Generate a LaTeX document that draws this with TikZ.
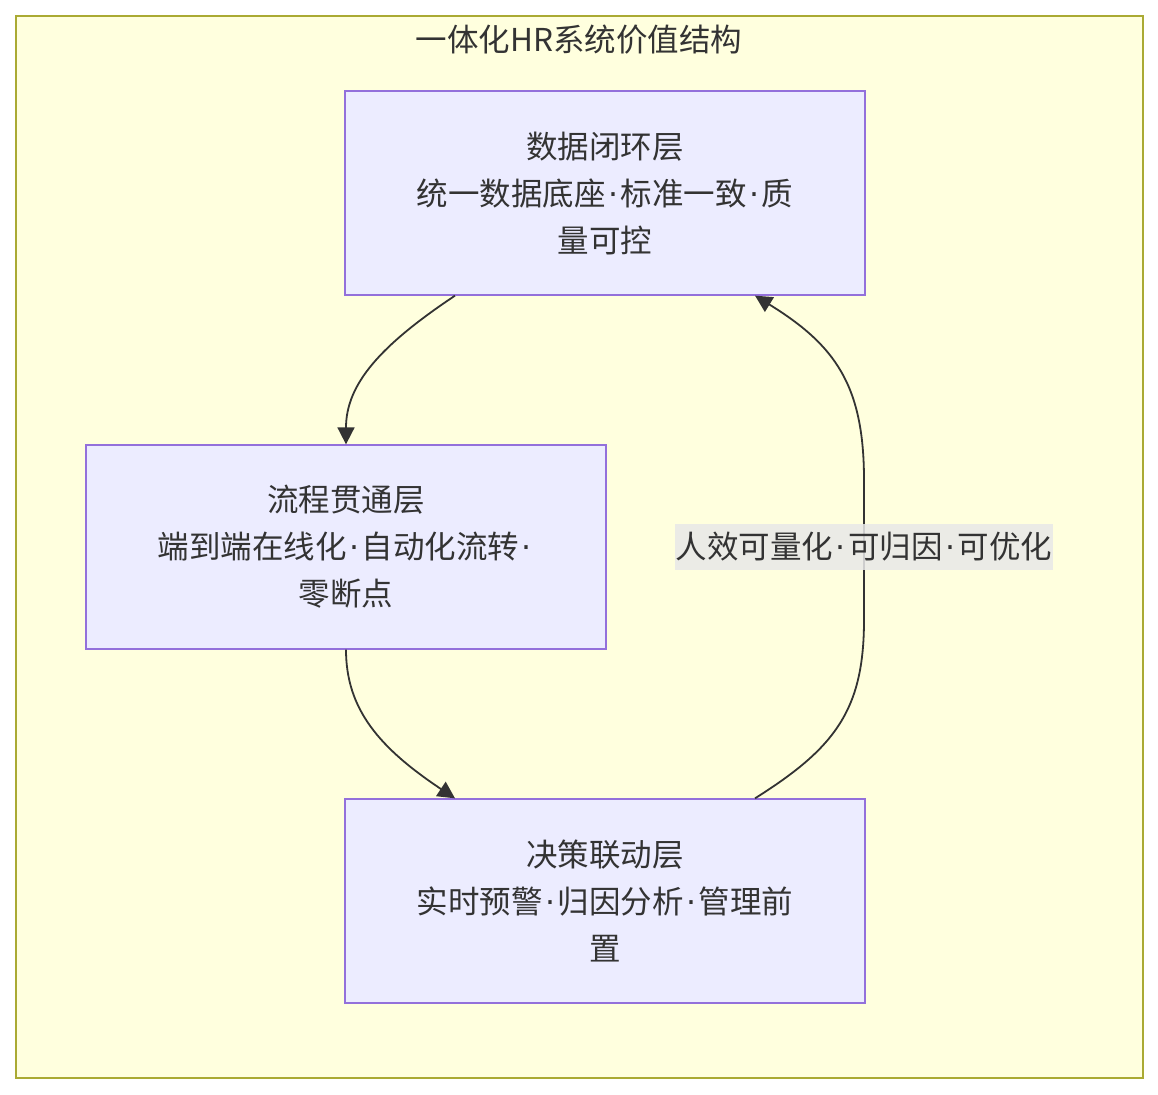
\documentclass[tikz,border=0pt]{standalone}
\usepackage{fontspec}
\setmainfont{Noto Sans CJK SC}
\newfontfamily\dotfont{DejaVu Sans}
\newcommand{\md}{{\kern2.5pt\dotfont ·\kern2.5pt}}
\usetikzlibrary{arrows.meta}
\definecolor{clusterfill}{HTML}{FFFFDE}
\definecolor{clusterline}{HTML}{AAAA33}
\definecolor{nodefill}{HTML}{ECECFF}
\definecolor{nodeline}{HTML}{9370DB}
\definecolor{txt}{HTML}{333333}
\definecolor{lblfill}{HTML}{E8E8E8}
\tikzset{
  layer/.style={draw=nodeline, fill=nodefill, line width=1.3pt, minimum width=520pt, minimum height=204pt, align=center, text=txt, font=\fontsize{31.5pt}{47pt}\selectfont, inner sep=0pt},
  conn/.style={draw=txt, line width=1.8pt, -{Triangle[length=17pt,width=17pt]}},
  lbl/.style={fill=lblfill, fill opacity=0.85, text opacity=1, text=txt, font=\fontsize{31.5pt}{36pt}\selectfont, inner xsep=1pt, minimum height=46pt}
}
\begin{document}
\begin{tikzpicture}[x=1pt,y=-1pt]
\useasboundingbox (0,0) rectangle (1158,1094);
\draw[draw=clusterline, fill=clusterfill, line width=1.3pt] (16,16) rectangle (1143,1078);
\node[text=txt, font=\fontsize{31.5pt}{36pt}\selectfont] (title) at (579,40) {一体化HR系统价值结构};
\node[layer] (a) at (605,193) {数据闭环层\\统一数据底座\md 标准一致\md 质\\量可控};
\node[layer] (b) at (346,547) {流程贯通层\\端到端在线化\md 自动化流转\md\\零断点};
\node[layer] (c) at (605,901) {决策联动层\\实时预警\md 归因分析\md 管理前\\置};
\draw[conn] ([xshift=-150pt]a.south) .. controls +(-75,50) and +(0,-60) .. (b.north);
\draw[conn] (b.south) .. controls +(0,60) and +(-75,-50) .. ([xshift=-150pt]c.north);
\coordinate (m1) at (864,620);
\coordinate (m2) at (864,480);
\draw[conn] ([xshift=150pt]c.north) .. controls (835,748) and (864,710) .. (m1) -- (m2) .. controls (864,385) and (835,345) .. ([xshift=150pt]a.south);
\node[lbl] (l) at (864,547) {人效可量化\md 可归因\md 可优化};
\end{tikzpicture}
\end{document}
